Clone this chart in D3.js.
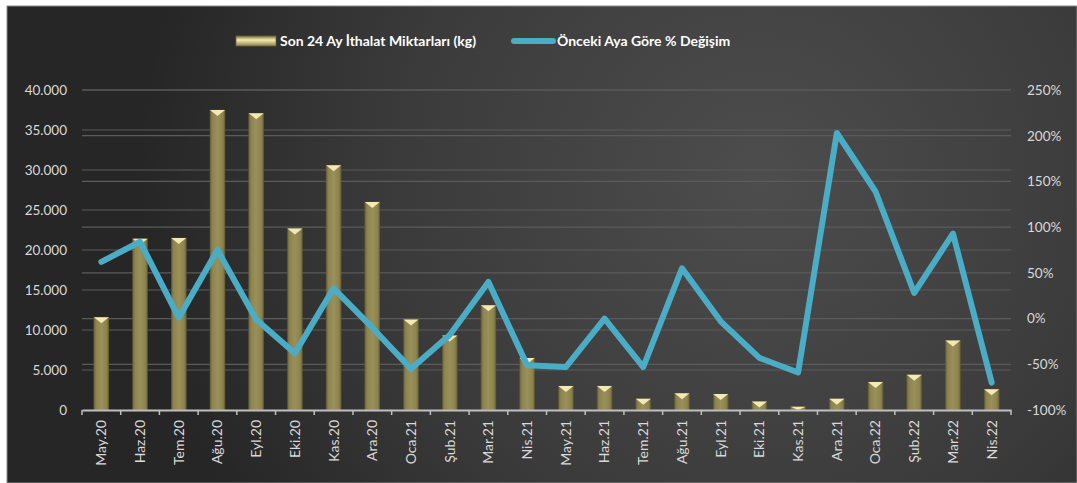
<!DOCTYPE html>
<html>
<head>
<meta charset="utf-8">
<script src="https://cdn.jsdelivr.net/npm/d3@7"></script>
<style>
  body { margin: 0; background: #fff; }
  text { font-family: "Lato", "Liberation Sans", sans-serif; }
</style>
</head>
<body>
<div id="chart"></div>
<script>
// Data
var months = ["May.20","Haz.20","Tem.20","Ağu.20","Eyl.20","Eki.20","Kas.20","Ara.20",
  "Oca.21","Şub.21","Mar.21","Nis.21","May.21","Haz.21","Tem.21","Ağu.21","Eyl.21",
  "Eki.21","Kas.21","Ara.21","Oca.22","Şub.22","Mar.22","Nis.22"];
var imports = [11600, 21400, 21500, 37500, 37100, 22700, 30600, 26000,
  11300, 9300, 13100, 6500, 3000, 3000, 1400, 2100, 2000,
  1050, 400, 1400, 3500, 4400, 8700, 2600];
var changePct = [62, 84, 1, 75, -1, -38, 33, -10,
  -55, -18, 40, -51, -53, 0, -53, 55, -3,
  -43, -59, 203, 139, 28, 93, -70];
var leftTicks = [0, 5000, 10000, 15000, 20000, 25000, 30000, 35000, 40000];
var rightTicks = [-100, -50, 0, 50, 100, 150, 200, 250];

var svgWidth = 1077, svgHeight = 483;
var margin = { top: 90, right: 66, bottom: 73, left: 82 };
var width = 1011 - margin.left;
var height = 410 - margin.top;

var svg = d3.select("#chart").append("svg")
  .attr("width", svgWidth)
  .attr("height", svgHeight);

var defs = svg.append("defs");
var bg = defs.append("radialGradient").attr("id", "bg")
  .attr("gradientUnits", "userSpaceOnUse")
  .attr("cx", 760).attr("cy", 180).attr("r", 620);
bg.append("stop").attr("offset", "0%").attr("stop-color", "#4d4d4d");
bg.append("stop").attr("offset", "60%").attr("stop-color", "#3a3a3a");
bg.append("stop").attr("offset", "100%").attr("stop-color", "#262626");

var barGrad = defs.append("linearGradient").attr("id", "barGrad")
  .attr("x1", "0%").attr("x2", "100%");
barGrad.append("stop").attr("offset", "0%").attr("stop-color", "#6b6338");
barGrad.append("stop").attr("offset", "15%").attr("stop-color", "#8c8350");
barGrad.append("stop").attr("offset", "50%").attr("stop-color", "#9a9058");
barGrad.append("stop").attr("offset", "85%").attr("stop-color", "#8c8350");
barGrad.append("stop").attr("offset", "100%").attr("stop-color", "#6b6338");

var swGrad = defs.append("linearGradient").attr("id", "swGrad")
  .attr("x1", "0%").attr("x2", "0%").attr("y1", "0%").attr("y2", "100%");
swGrad.append("stop").attr("offset", "0%").attr("stop-color", "#7a7040");
swGrad.append("stop").attr("offset", "40%").attr("stop-color", "#f3ecb0");
swGrad.append("stop").attr("offset", "100%").attr("stop-color", "#8c8350");

// background panel
svg.append("rect")
  .attr("x", 7).attr("y", 6)
  .attr("width", svgWidth - 7).attr("height", svgHeight - 6)
  .attr("fill", "url(#bg)")
  .attr("stroke", "#8a8a8a").attr("stroke-width", 1);

var chartGroup = svg.append("g")
  .attr("transform", `translate(${margin.left}, ${margin.top})`);

// Scales
var xBandScale = d3.scaleBand()
  .domain(months)
  .range([0, width]);

var yLinearScale = d3.scaleLinear()
  .domain([0, 40000])
  .range([height, 0]);

var yPctScale = d3.scaleLinear()
  .domain([-100, 250])
  .range([height, 0]);

// Gridlines (both axes)
chartGroup.selectAll(".gridL")
  .data(leftTicks.slice(1))
  .enter()
  .append("line")
  .attr("x1", 0).attr("x2", width)
  .attr("y1", d => yLinearScale(d)).attr("y2", d => yLinearScale(d))
  .attr("stroke", "#5b5b5b").attr("stroke-width", 1.2);

chartGroup.selectAll(".gridR")
  .data(rightTicks.slice(1))
  .enter()
  .append("line")
  .attr("x1", 0).attr("x2", width)
  .attr("y1", d => yPctScale(d)).attr("y2", d => yPctScale(d))
  .attr("stroke", "#5b5b5b").attr("stroke-width", 1.2);

// Bars
var barW = 15;
var bars = chartGroup.selectAll(".bar")
  .data(imports)
  .enter()
  .append("g")
  .attr("transform", (d, i) => `translate(${xBandScale(months[i]) + xBandScale.bandwidth() / 2 - barW / 2}, 0)`);

bars.append("rect")
  .attr("y", d => yLinearScale(d))
  .attr("width", barW)
  .attr("height", d => height - yLinearScale(d))
  .attr("fill", "url(#barGrad)")
  .attr("stroke", "#5f5830").attr("stroke-width", 0.5);

bars.append("path")
  .attr("d", d => {
    var y = yLinearScale(d);
    var h = Math.min(6, height - y);
    return `M0,${y} L${barW},${y} L${barW / 2},${y + h} Z`;
  })
  .attr("fill", "#f2eab0");

// Line
var line = d3.line()
  .x((d, i) => xBandScale(months[i]) + xBandScale.bandwidth() / 2)
  .y(d => yPctScale(d));

chartGroup.append("path")
  .datum(changePct)
  .attr("d", line)
  .attr("fill", "none")
  .attr("stroke", "#4bacc6")
  .attr("stroke-width", 6)
  .attr("stroke-linejoin", "round")
  .attr("stroke-linecap", "round");

// Axes
var bottomAxis = d3.axisBottom(xBandScale).tickSize(0).tickPadding(0);
var xAxisG = chartGroup.append("g")
  .attr("transform", `translate(0, ${height})`)
  .call(bottomAxis);
xAxisG.select(".domain").attr("stroke", "#bfbfbf").attr("stroke-width", 2);
xAxisG.selectAll(".tick text")
  .attr("transform", "rotate(-90)")
  .attr("text-anchor", "end")
  .attr("x", -10)
  .attr("y", 0)
  .attr("dy", "0.35em")
  .attr("fill", "#d9d9d9")
  .style("font-size", "14px");
chartGroup.selectAll(".xtick")
  .data(d3.range(months.length + 1))
  .enter()
  .append("line")
  .attr("x1", d => d * xBandScale.step()).attr("x2", d => d * xBandScale.step())
  .attr("y1", height).attr("y2", height + 5)
  .attr("stroke", "#bfbfbf").attr("stroke-width", 1.5);

var fmt = d3.formatLocale({ decimal: ",", thousands: ".", grouping: [3], currency: ["", ""] }).format(",");
var leftAxis = d3.axisLeft(yLinearScale).tickValues(leftTicks).tickSize(0).tickPadding(15).tickFormat(d => fmt(d));
var lAxisG = chartGroup.append("g").call(leftAxis);
lAxisG.select(".domain").remove();
lAxisG.selectAll("text").attr("fill", "#d9d9d9").style("font-size", "13.5px");

var rightAxis = d3.axisRight(yPctScale).tickValues(rightTicks).tickSize(0).tickPadding(16).tickFormat(d => d + "%");
var rAxisG = chartGroup.append("g")
  .attr("transform", `translate(${width}, 0)`)
  .call(rightAxis);
rAxisG.select(".domain").remove();
rAxisG.selectAll("text").attr("fill", "#d9d9d9").style("font-size", "13.5px");

// Legend
var legend = svg.append("g");
legend.append("rect")
  .attr("x", 236).attr("y", 36).attr("width", 40).attr("height", 10)
  .attr("fill", "url(#swGrad)").attr("stroke", "#6b6338").attr("stroke-width", 0.8);
legend.append("text")
  .attr("x", 280).attr("y", 41).attr("dy", "0.35em")
  .attr("fill", "#ffffff").style("font-size", "14px").style("font-weight", "bold")
  .text("Son 24 Ay İthalat Miktarları (kg)");
legend.append("line")
  .attr("x1", 514).attr("x2", 553).attr("y1", 41).attr("y2", 41)
  .attr("stroke", "#4bacc6").attr("stroke-width", 6).attr("stroke-linecap", "round");
legend.append("text")
  .attr("x", 557).attr("y", 41).attr("dy", "0.35em")
  .attr("fill", "#ffffff").style("font-size", "14px").style("font-weight", "bold")
  .text("Önceki Aya Göre % Değişim");
</script>
</body>
</html>
